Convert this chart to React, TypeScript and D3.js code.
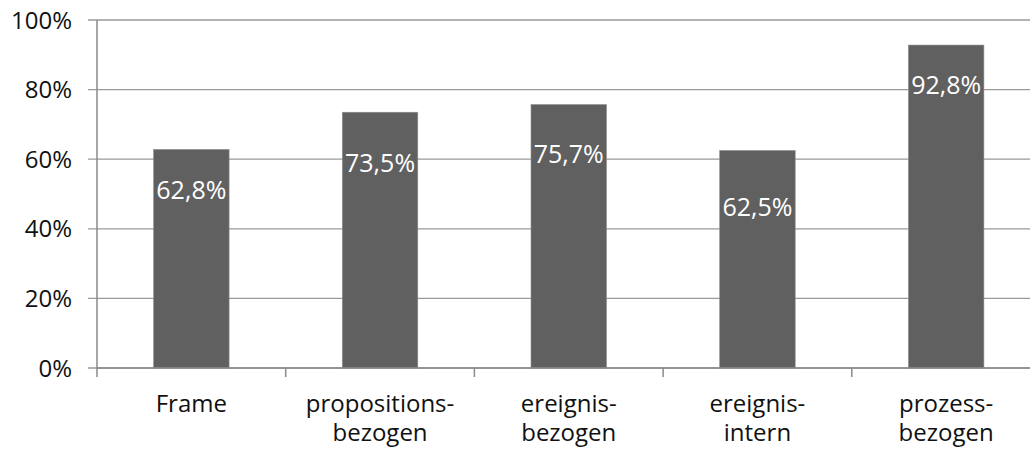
import React from "react";
import * as d3 from "d3";

const categories: string[][] = [
  ["Frame"],
  ["propositions-", "bezogen"],
  ["ereignis-", "bezogen"],
  ["ereignis-", "intern"],
  ["prozess-", "bezogen"],
];
const values: number[] = [0.628, 0.735, 0.757, 0.625, 0.928];
const valueLabels: string[] = ["62,8%", "73,5%", "75,7%", "62,5%", "92,8%"];
// baseline anchor of each value label, in data units (labels were placed by hand)
const labelAnchors: number[] = [0.486, 0.563, 0.589, 0.437, 0.787];
const yTicks: number[] = [0, 0.2, 0.4, 0.6, 0.8, 1.0];
const yTickLabels: string[] = ["0%", "20%", "40%", "60%", "80%", "100%"];

const W = 1030;
const H = 450;
const FONT = "'Open Sans', 'DejaVu Sans', sans-serif";

export default function App() {
  const keys = categories.map((_, i) => String(i));
  const x = d3
    .scaleBand<string>()
    .domain(keys)
    .range([97, 1040.5])
    .paddingInner(0.6)
    .paddingOuter(0.3);
  const y = d3.scaleLinear().domain([0, 1]).range([368, 20]);
  const step = x.step();
  const x0 = 97;

  return (
    <svg
      width={W}
      height={H}
      style={{ position: "absolute", left: 0, top: 0, background: "#fff" }}
      fontFamily={FONT}
    >
      {/* gridlines and y ticks */}
      {yTicks.map((t, i) => (
        <g key={"g" + i}>
          <line x1={88} x2={1040} y1={y(t)} y2={y(t)} stroke="#9a9a9a" strokeWidth={1.3} />
          <text
            x={72}
            y={y(t)}
            dy="0.36em"
            textAnchor="end"
            fontSize={24}
            fill="#111"
          >
            {yTickLabels[i]}
          </text>
        </g>
      ))}
      {/* y axis */}
      <line x1={x0} x2={x0} y1={y(1)} y2={y(0)} stroke="#8a8a8a" strokeWidth={1.5} />
      {/* x ticks */}
      {d3.range(categories.length + 1).map((i) => (
        <line
          key={"xt" + i}
          x1={x0 + i * step}
          x2={x0 + i * step}
          y1={y(0)}
          y2={y(0) + 9}
          stroke="#8a8a8a"
          strokeWidth={1.5}
        />
      ))}
      {/* bars */}
      {values.map((v, i) => (
        <rect
          key={"b" + i}
          x={x(keys[i])}
          y={y(v)}
          width={x.bandwidth()}
          height={y(0) - y(v)}
          fill="#606060"
          stroke="#8c8c8c"
          strokeWidth={0.6}
        />
      ))}
      {/* x axis line */}
      <line x1={x0} x2={1040} y1={y(0)} y2={y(0)} stroke="#8a8a8a" strokeWidth={1.5} />
      {/* value labels */}
      {values.map((v, i) => (
        <text
          key={"v" + i}
          x={(x(keys[i]) as number) + x.bandwidth() / 2}
          y={y(labelAnchors[i])}
          textAnchor="middle"
          fontSize={25}
          fill="#fff"
        >
          {valueLabels[i]}
        </text>
      ))}
      {/* category labels */}
      {categories.map((lines, i) => (
        <text
          key={"c" + i}
          x={(x(keys[i]) as number) + x.bandwidth() / 2}
          y={412}
          textAnchor="middle"
          fontSize={24}
          fill="#111"
        >
          {lines.map((l, j) => (
            <tspan key={j} x={(x(keys[i]) as number) + x.bandwidth() / 2} dy={j === 0 ? 0 : 29}>
              {l}
            </tspan>
          ))}
        </text>
      ))}
    </svg>
  );
}
